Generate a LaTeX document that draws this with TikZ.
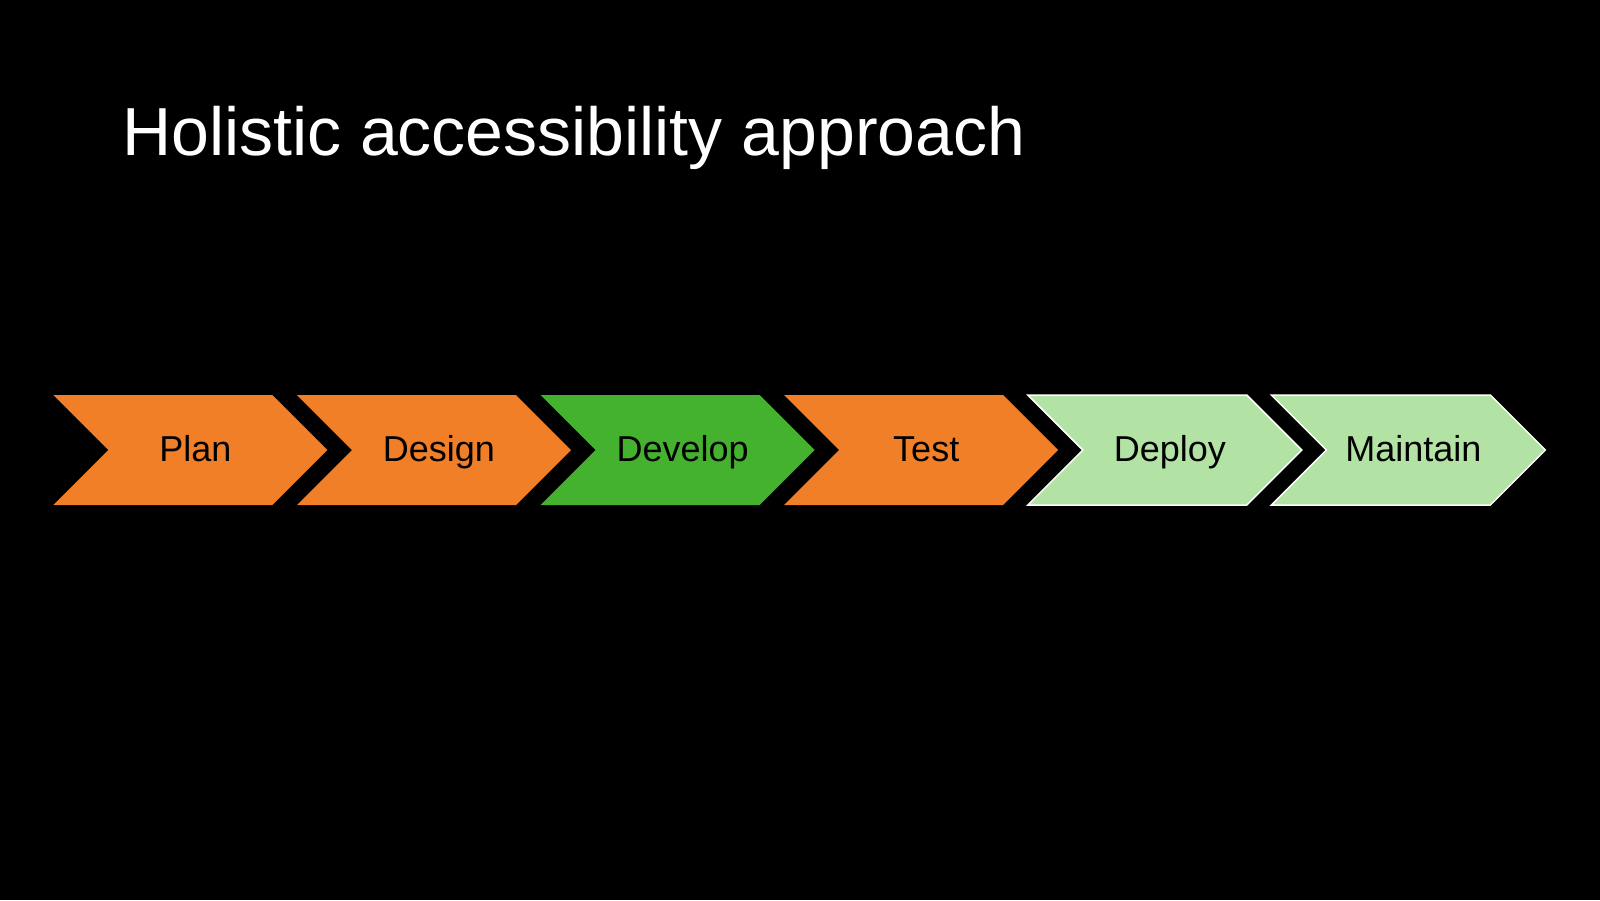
\documentclass[tikz,border=0pt]{standalone}
\usepackage{fontspec}
\setmainfont{Liberation Sans}
\definecolor{corange}{HTML}{F07F28}
\definecolor{cgreen}{HTML}{45B22F}
\definecolor{clight}{HTML}{B2E3A5}
\begin{document}
\begin{tikzpicture}[x=1pt,y=-1pt,
  chev/.style={line join=miter},
  lbl/.style={inner sep=0pt,anchor=base,text=black,font=\fontsize{36}{43}\selectfont}]
\fill[black] (0,0) rectangle (1600,900);
\useasboundingbox (0,0) rectangle (1600,900);
\node[inner sep=0pt,anchor=base west,text=white,font=\fontsize{68}{80}\selectfont] (title) at (122,155) {Holistic accessibility approach};
\def\W{274}\def\P{55}
\foreach \i/\name/\txt/\fc/\dc in {0/plan/Plan/corange/none,1/design/Design/corange/none,2/develop/Develop/cgreen/none,3/test/Test/corange/none,4/deploy/Deploy/clight/white,5/maintain/Maintain/clight/white}{
  \pgfmathsetmacro{\L}{53.4+243.6*\i}
  \path[chev,fill=\fc,draw=\dc,line width=1.5pt] (\L,395) -- (\L+\W-\P,395) -- (\L+\W,450) -- (\L+\W-\P,505) -- (\L,505) -- (\L+\P,450) -- cycle;
  \node[lbl] (\name) at (\L+142,461.5) {\txt};
}
\end{tikzpicture}
\end{document}
